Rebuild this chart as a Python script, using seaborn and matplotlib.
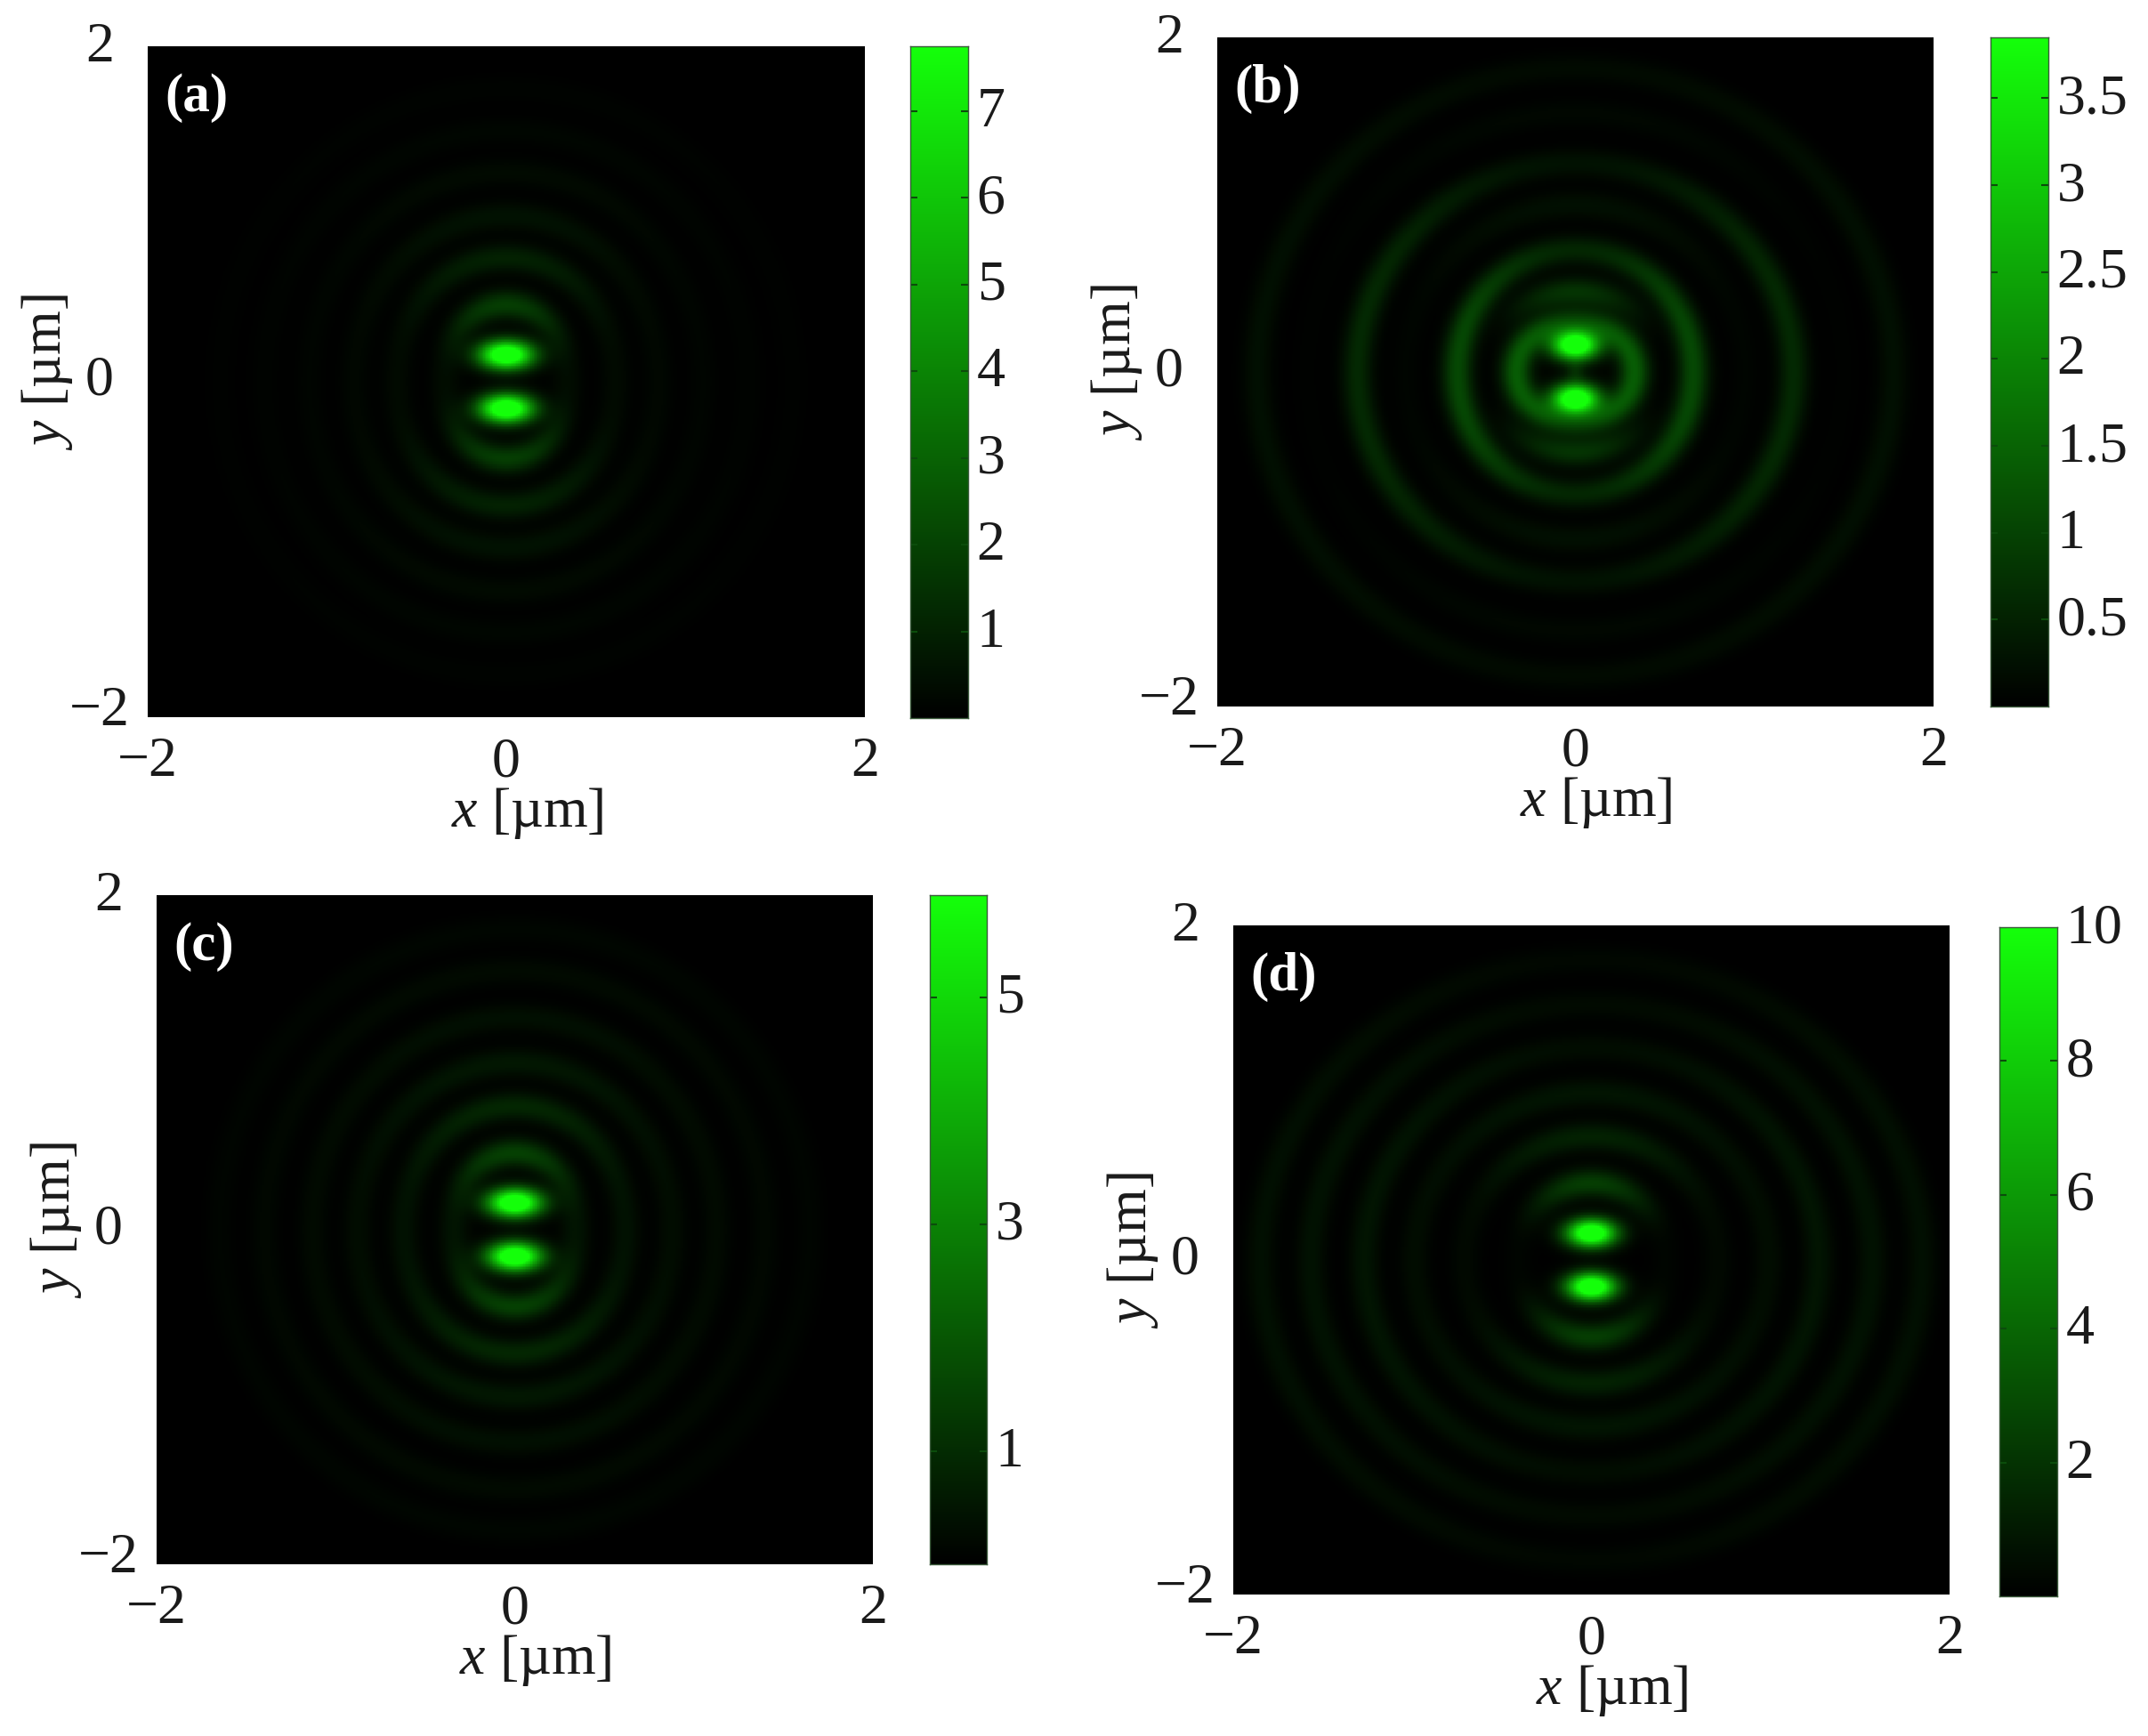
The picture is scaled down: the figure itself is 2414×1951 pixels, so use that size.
import matplotlib
matplotlib.use("Agg")
import matplotlib.pyplot as plt
import numpy as np
import seaborn as sns
from matplotlib.colors import LinearSegmentedColormap
from matplotlib.transforms import ScaledTranslation

FIG_W, FIG_H = 2414, 1951
GRID_N = 500

PANEL_LABELS = ["(a)", "(b)", "(c)", "(d)"]
AXIS_TICKS = [-2, 0, 2]
AXIS_TICK_LABELS = ["\u22122", "0", "2"]

# colour scale
VMAX = [7.75, 3.85, 5.9, 10.0]
CBAR_TICKS = [
    [1, 2, 3, 4, 5, 6, 7],
    [0.5, 1, 1.5, 2, 2.5, 3, 3.5],
    [1, 3, 5],
    [2, 4, 6, 8, 10],
]
CBAR_TICK_LABELS = [
    ["1", "2", "3", "4", "5", "6", "7"],
    ["0.5", "1", "1.5", "2", "2.5", "3", "3.5"],
    ["1", "3", "5"],
    ["2", "4", "6", "8", "10"],
]

# two bright lobes, distance from centre and widths in um
LOBE_Y = [0.16, 0.16, 0.16, 0.16]
LOBE_SX = [0.105, 0.09, 0.105, 0.095]
LOBE_SY = [0.06, 0.062, 0.06, 0.058]
LOBE_AMP = [1.3, 1.3, 1.3, 1.3]
CENTER_AMP = [0.0, 0.10, 0.0, 0.0]

# ring positions (um) and relative brightness, on the y axis and on the x axis
RING_R_Y = [
    [0.46, 0.74, 0.99, 1.25, 1.50, 1.75],
    [0.30, 0.48, 0.73, 1.00, 1.25, 1.55, 1.82],
    [0.46, 0.74, 1.00, 1.27, 1.55, 1.80],
    [0.46, 0.74, 1.00, 1.27, 1.53, 1.80],
]
RING_R_X = [
    [0.34, 0.61, 0.85, 1.10, 1.35, 1.60],
    [0.33, 0.50, 0.66, 0.95, 1.22, 1.50, 1.78],
    [0.34, 0.62, 0.88, 1.13, 1.40, 1.65],
    [0.41, 0.71, 0.99, 1.27, 1.57, 1.85],
]
RING_A_Y = [
    [0.24, 0.13, 0.07, 0.04, 0.025, 0.015],
    [0.25, 0.20, 0.15, 0.06, 0.07, 0.03, 0.04],
    [0.25, 0.15, 0.09, 0.06, 0.04, 0.025],
    [0.24, 0.13, 0.08, 0.05, 0.04, 0.03],
]
RING_A_X = [
    [0.05, 0.04, 0.03, 0.02, 0.015, 0.01],
    [0.36, 0.00, 0.28, 0.02, 0.16, 0.01, 0.06],
    [0.08, 0.07, 0.05, 0.04, 0.03, 0.02],
    [0.02, 0.035, 0.05, 0.08, 0.07, 0.06],
]

# axes boxes in pixels of the full figure: left, top, right, bottom
MAIN_BOXES = [(166, 52, 972, 806), (1368, 42, 2173, 794), (176, 1006, 981, 1758), (1386, 1040, 2191, 1792)]
CBAR_BOXES = [(1023, 52, 1088, 807), (2237, 42, 2302, 794), (1045, 1006, 1109, 1758), (2247, 1042, 2312, 1794)]

sns.set_theme(style="white")
plt.rcParams["font.family"] = ["Liberation Serif", "DejaVu Serif"]
plt.rcParams["mathtext.fontset"] = "custom"
plt.rcParams["mathtext.rm"] = "Liberation Serif"
plt.rcParams["mathtext.it"] = "Liberation Serif:italic"

BLACK_GREEN = LinearSegmentedColormap.from_list("black_green", ["#000000", "#14ff0a"])


def axes_px(fig, box):
    left, top, right, bottom = box
    return fig.add_axes([left / FIG_W, 1 - bottom / FIG_H, (right - left) / FIG_W, (bottom - top) / FIG_H])


def build_field(i):
    xs = np.linspace(-2, 2, GRID_N)
    ys = np.linspace(2, -2, GRID_N)
    x, y = np.meshgrid(xs, ys)
    r = np.hypot(x, y)
    s2 = (y / np.maximum(r, 1e-6)) ** 2
    field = np.zeros_like(r)
    for r_y, r_x, a_y, a_x in zip(RING_R_Y[i], RING_R_X[i], RING_A_Y[i], RING_A_X[i]):
        ring_r = r_x + (r_y - r_x) * s2
        ring_a = a_x + (a_y - a_x) * s2 ** 1.5
        field += ring_a * np.exp(-(((r - ring_r) / 0.085) ** 2))
    for sign in (1, -1):
        field += LOBE_AMP[i] * np.exp(-(x / LOBE_SX[i]) ** 2 / 2 - ((y - sign * LOBE_Y[i]) / LOBE_SY[i]) ** 2 / 2)
    field += CENTER_AMP[i] * np.exp(-(x / 0.05) ** 2 - (y / 0.06) ** 2)
    return np.clip(field, 0, 1) * VMAX[i]


def nudge(label, fig, dy_px):
    label.set_transform(label.get_transform() + ScaledTranslation(0, dy_px / 100, fig.dpi_scale_trans))


def draw_panel(fig, i):
    ax = axes_px(fig, MAIN_BOXES[i])
    cax = axes_px(fig, CBAR_BOXES[i])
    sns.heatmap(build_field(i), ax=ax, cbar_ax=cax, cmap=BLACK_GREEN, vmin=0, vmax=VMAX[i],
                xticklabels=False, yticklabels=False, rasterized=True,
                cbar_kws={"ticks": CBAR_TICKS[i]})

    tick_pos = [(t + 2) / 4 * GRID_N for t in AXIS_TICKS]
    ax.set_xticks(tick_pos)
    ax.set_xticklabels(AXIS_TICK_LABELS)
    ax.set_yticks(tick_pos[::-1])
    ax.set_yticklabels(AXIS_TICK_LABELS, rotation=0, ha="center")
    ax.tick_params(axis="both", labelsize=46, length=0, colors="#1a1a1a")
    ax.tick_params(axis="x", pad=16)
    ax.tick_params(axis="y", pad=39)
    for label, dy in zip(ax.get_yticklabels(), [13, 7, 5]):
        nudge(label, fig, dy)
    ax.set_xlabel("$x$ [\u00b5m]", fontsize=46, color="#1a1a1a", va="center")
    ax.set_ylabel("$y$ [\u00b5m]", fontsize=46, color="#1a1a1a", va="center", ha="center")
    ax.xaxis.set_label_coords(0.529, -0.143)
    ax.yaxis.set_label_coords(-0.14, 0.515)
    ax.text(0.024, 0.923, PANEL_LABELS[i], transform=ax.transAxes, color="white",
            fontsize=44, fontweight="bold", va="center", ha="left")

    cax.set_yticks(CBAR_TICKS[i])
    cax.set_yticklabels(CBAR_TICK_LABELS[i])
    cax.tick_params(axis="y", labelsize=46, length=0, pad=7, colors="#1a1a1a")
    for label in cax.get_yticklabels():
        nudge(label, fig, 5)
    for side in ("left", "right", "top", "bottom"):
        cax.spines[side].set_visible(True)
        cax.spines[side].set_linewidth(1.0)
        cax.spines[side].set_color("#3a5a3a")
    # small inward ticks on both sides of the bar
    cax.hlines(CBAR_TICKS[i], 0, 0.13, transform=cax.get_yaxis_transform(), color="#0b4d0b", lw=1.5)
    cax.hlines(CBAR_TICKS[i], 0.87, 1, transform=cax.get_yaxis_transform(), color="#0b4d0b", lw=1.5)


def main():
    fig = plt.figure(figsize=(FIG_W / 100, FIG_H / 100), dpi=100, facecolor="white")
    for i in range(len(PANEL_LABELS)):
        draw_panel(fig, i)
    fig.savefig("out.png", dpi=100)
    plt.close(fig)


if __name__ == "__main__":
    main()
